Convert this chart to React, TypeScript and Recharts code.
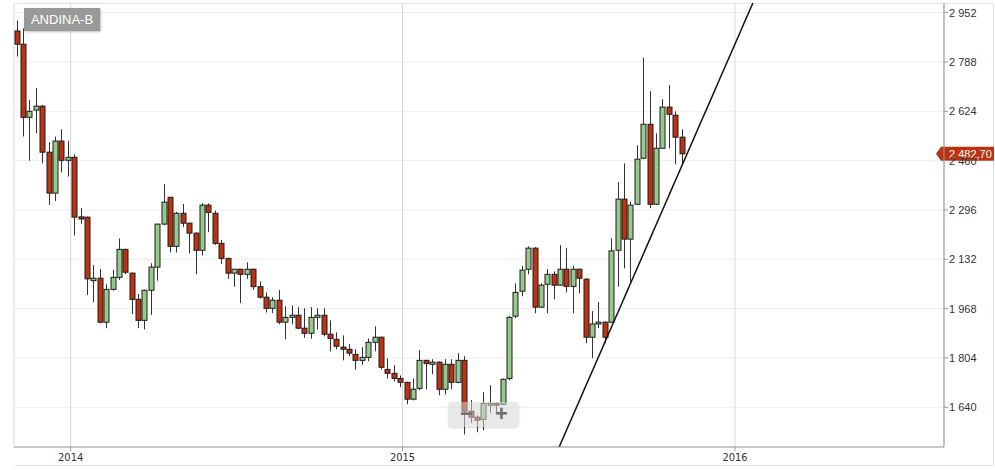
import React from "react";
import {
  ComposedChart,
  Bar,
  XAxis,
  YAxis,
  CartesianGrid,
  ReferenceLine,
} from "recharts";

// weekly candles, ANDINA-B
const opens = [
  2891, 2847, 2604, 2628, 2641, 2488, 2352, 2525, 2461, 2471, 2273, 2272, 2061, 2069, 1923,
  2032, 2072, 2165, 2086, 1999, 1929, 2029, 2106, 2249, 2338, 2175, 2285, 2252, 2219, 2162,
  2312, 2285, 2185, 2135, 2086, 2099, 2082, 2099, 2041, 2006, 1969, 1996, 1923, 1939, 1946,
  1903, 1886, 1939, 1946, 1883, 1866, 1840, 1833, 1816, 1796, 1806, 1856, 1873, 1766, 1753,
  1736, 1723, 1667, 1703, 1796, 1783, 1790, 1700, 1783, 1723, 1796, 1627, 1607, 1600, 1647,
  1653, 1650, 1736, 1943, 2026, 2099, 2169, 1973, 2049, 2082, 2046, 2099, 2042, 2099, 2066,
  1873, 1917, 1923, 1923, 2162, 2332, 2199, 2315, 2468, 2581, 2315, 2501, 2638, 2611, 2538,
];
const highs = [
  2925, 2900, 2662, 2701, 2645, 2521, 2540, 2564, 2526, 2481, 2302, 2274, 2113, 2100, 2049,
  2097, 2201, 2167, 2088, 2017, 2031, 2119, 2250, 2382, 2340, 2290, 2316, 2254, 2221, 2318,
  2318, 2294, 2196, 2137, 2100, 2100, 2122, 2101, 2059, 2022, 2006, 2030, 1976, 1979, 1973,
  1969, 1973, 1969, 1969, 1929, 1889, 1879, 1850, 1833, 1840, 1869, 1909, 1875, 1803, 1780,
  1746, 1725, 1736, 1830, 1798, 1800, 1792, 1800, 1800, 1820, 1810, 1664, 1613, 1690, 1713,
  1655, 1736, 1944, 2052, 2110, 2175, 2172, 2052, 2099, 2092, 2179, 2169, 2110, 2101, 2069,
  1960, 1990, 1925, 2202, 2389, 2451, 2324, 2511, 2802, 2691, 2551, 2664, 2711, 2624, 2564,
];
const lows = [
  2806, 2540, 2460, 2551, 2451, 2313, 2326, 2421, 2407, 2211, 2250, 2013, 1989, 1919, 1903,
  2028, 2063, 2083, 1950, 1903, 1899, 1947, 2061, 2245, 2155, 2155, 2239, 2152, 2082, 2145,
  2222, 2180, 2117, 2067, 2041, 1986, 2067, 2030, 2001, 1955, 1953, 1916, 1866, 1916, 1899,
  1871, 1868, 1899, 1876, 1826, 1833, 1796, 1810, 1765, 1782, 1793, 1826, 1766, 1736, 1726,
  1707, 1650, 1663, 1697, 1700, 1750, 1680, 1683, 1700, 1720, 1550, 1587, 1557, 1564, 1621,
  1620, 1648, 1730, 1936, 2009, 2082, 1953, 1970, 1953, 1999, 2044, 2022, 1953, 2019, 1853,
  1803, 1903, 1853, 1920, 2041, 2102, 2058, 2313, 2465, 2302, 2312, 2499, 2501, 2448, 2451,
];
const closes = [
  2847, 2604, 2624, 2641, 2488, 2352, 2525, 2461, 2471, 2272, 2266, 2067, 2069, 1923, 2032,
  2072, 2165, 2089, 1999, 1929, 2029, 2106, 2249, 2322, 2175, 2285, 2252, 2219, 2162, 2312,
  2288, 2185, 2135, 2086, 2099, 2082, 2099, 2041, 2006, 1969, 1996, 1923, 1939, 1946, 1903,
  1886, 1939, 1946, 1883, 1869, 1843, 1833, 1820, 1796, 1806, 1856, 1873, 1773, 1753, 1736,
  1723, 1667, 1700, 1796, 1786, 1790, 1700, 1783, 1723, 1796, 1627, 1607, 1597, 1653, 1653,
  1647, 1733, 1939, 2022, 2096, 2169, 1973, 2046, 2082, 2046, 2099, 2042, 2099, 2069, 1873,
  1917, 1923, 1873, 2160, 2332, 2199, 2312, 2465, 2581, 2315, 2501, 2638, 2614, 2538, 2482.7,
];

// x is the week number; year boundaries fall between weeks
const yearTicks = [8.5, 60.4, 112.4];
const yearLabels = ["2014", "2015", "2016"];
const priceTicks = [1640, 1804, 1968, 2132, 2296, 2460, 2624, 2788, 2952];
const lastPrice = 2482.7;
const trendLine = [
  { x: 84.9, y: 1508 },
  { x: 115.2, y: 2984 },
];

const data = opens.map((o, i) => ({
  week: i,
  open: o,
  high: highs[i],
  low: lows[i],
  close: closes[i],
  range: [lows[i], highs[i]],
}));

const fmt = (v: number, dec = 0) => {
  const [int, frac] = v.toFixed(dec).split(".");
  const withSpaces = int.replace(/\B(?=(\d{3})+(?!\d))/g, " ");
  return frac ? `${withSpaces},${frac}` : withSpaces;
};

const UP = "#97c98a";
const DOWN = "#bd3210";

const Candle = (props: any) => {
  const { x, y, width, height, payload } = props;
  if (x == null || y == null) return null;
  const top = Math.min(y, y + height);
  const span = Math.abs(height);
  const { open, close, high, low } = payload;
  const k = span / (high - low || 1);
  const yOpen = top + (high - open) * k;
  const yClose = top + (high - close) * k;
  const cx = Math.round(x + width / 2) + 0.5;
  const bodyTop = Math.min(yOpen, yClose);
  const bodyH = Math.max(Math.abs(yOpen - yClose), 1);
  const up = close >= open;
  return (
    <g>
      <line x1={cx} x2={cx} y1={top} y2={top + span} stroke="#333" strokeWidth={1} />
      <rect
        x={cx - 2.5}
        y={bodyTop}
        width={5}
        height={bodyH}
        fill={up ? UP : DOWN}
        stroke="#1c1c1c"
        strokeWidth={1}
      />
    </g>
  );
};

const PriceTag = (props: any) => {
  const { viewBox } = props;
  if (!viewBox) return null;
  const right = viewBox.x + viewBox.width;
  const y = viewBox.y;
  return (
    <g>
      <polygon
        points={`${right - 8},${y} ${right - 3},${y - 7} ${right + 50},${y - 7} ${right + 50},${y + 7} ${right - 3},${y + 7}`}
        fill={DOWN}
      />
      <text x={right + 5} y={y + 4} fill="#fff" fontSize={11} fontFamily="Liberation Sans, Arial, sans-serif">
        {fmt(lastPrice, 2)}
      </text>
    </g>
  );
};

export default function App() {
  return (
    <div style={{ position: "absolute", left: 0, top: 0, width: 995, height: 470, background: "#fff" }}>
      <div
        style={{
          position: "absolute",
          left: 14,
          top: 3,
          width: 980,
          height: 463,
          border: "1px solid #e2e2e2",
          borderLeft: "none",
          boxSizing: "border-box",
        }}
      />
      <ComposedChart
        width={995}
        height={470}
        data={data}
        margin={{ top: 3, right: 0, bottom: 0, left: 14 }}
        style={{ position: "absolute", left: 0, top: 0 }}
      >
        <CartesianGrid horizontal vertical={false} stroke="#ededed" />
        <CartesianGrid horizontal={false} vertical stroke="#d9d9d9" />
        <XAxis
          dataKey="week"
          type="number"
          domain={[-0.36, 145.09]}
          ticks={yearTicks}
          tickFormatter={(v: number) => yearLabels[yearTicks.indexOf(v)] ?? ""}
          height={23}
          stroke="#999"
          tickSize={4}
          tickMargin={2}
          tick={{ fill: "#333", fontSize: 11, fontFamily: "'Liberation Sans Narrow', 'DejaVu Sans Condensed', Arial, sans-serif" }}
          allowDataOverflow
        />
        <YAxis
          orientation="right"
          type="number"
          domain={[1508, 2984]}
          ticks={priceTicks}
          tickFormatter={(v: number) => fmt(v)}
          width={51}
          stroke="#999"
          tickSize={4}
          tickMargin={1}
          tick={{ fill: "#333", fontSize: 11, fontFamily: "Liberation Sans, Arial, sans-serif", textAnchor: "start" }}
          allowDataOverflow
        />
        <Bar dataKey="range" barSize={5} shape={Candle} isAnimationActive={false} />
        <ReferenceLine segment={trendLine} stroke="#111" strokeWidth={1.5} ifOverflow="hidden" />
        <ReferenceLine y={lastPrice} stroke="none" label={<PriceTag />} />
      </ComposedChart>
      <div
        style={{
          position: "absolute",
          left: 24,
          top: 8,
          width: 76,
          height: 23,
          background: "#999",
          color: "#fff",
          fontFamily: "Liberation Sans, Arial, sans-serif",
          fontSize: 13,
          lineHeight: "23px",
          textAlign: "center",
          boxShadow: "1px 1px 2px rgba(0,0,0,0.25)",
        }}
      >
        ANDINA-B
      </div>
      <div
        style={{
          position: "absolute",
          left: 448,
          top: 402,
          width: 71,
          height: 25,
          borderRadius: 4,
          background: "rgba(215,215,215,0.55)",
          boxShadow: "0 1px 2px rgba(0,0,0,0.15)",
          fontFamily: "Liberation Sans, Arial, sans-serif",
          fontWeight: "bold",
          color: "#707070",
          fontSize: 22,
          lineHeight: "25px",
        }}
      >
        <span style={{ position: "absolute", left: 12, top: -1 }}>−</span>
        <span style={{ position: "absolute", left: 47, top: -1 }}>+</span>
      </div>
    </div>
  );
}
